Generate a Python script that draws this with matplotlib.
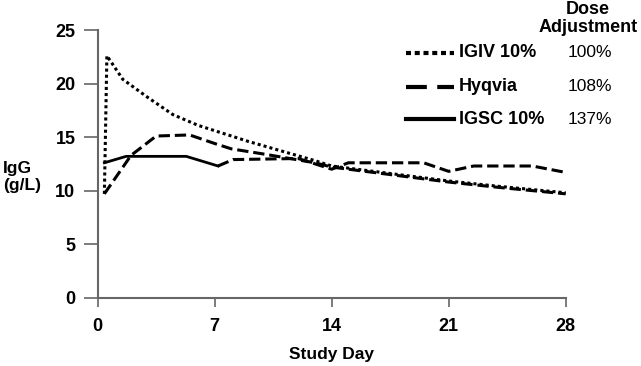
import matplotlib.pyplot as plt
from matplotlib.lines import Line2D

plt.rcParams["font.family"] = ["Liberation Sans", "DejaVu Sans"]

# mean IgG (g/L), per study day
igiv_day = [0.4, 0.55, 1.5, 3.0, 4.5, 6.0, 7.0, 9.0, 11.0, 13.0, 14.0, 17.0, 21.0, 24.0, 28.0]
igiv_igg = [9.7, 22.6, 20.4, 18.7, 17.1, 16.1, 15.6, 14.6, 13.7, 12.8, 12.3, 11.7, 10.9, 10.4, 9.8]

hyq_day = [0.4, 2.0, 3.5, 5.5, 7.0, 8.0, 10.0, 11.5, 13.0, 14.0, 17.0, 21.0, 24.0, 28.0]
hyq_igg = [9.7, 13.3, 15.1, 15.2, 14.4, 13.9, 13.4, 13.0, 12.6, 12.2, 11.6, 10.8, 10.3, 9.7]

igsc_day = [0.4, 1.7, 3.0, 5.3, 7.2, 8.1, 12.0, 14.0, 15.0, 19.5, 21.0, 22.5, 26.0, 28.0]
igsc_igg = [12.6, 13.2, 13.2, 13.2, 12.3, 12.9, 13.0, 12.0, 12.6, 12.6, 11.8, 12.3, 12.3, 11.7]
igsc_solid_until = 5  # first points drawn solid, the rest dashed as in the source

products = ["IGIV 10%", "Hyqvia", "IGSC 10%"]
dose_adj = ["100%", "108%", "137%"]

x_ticks = [0, 7, 14, 21, 28]
y_ticks = [0, 5, 10, 15, 20, 25]

FS = 13

fig = plt.figure(figsize=(6.41, 3.66), dpi=100)
ax = fig.add_axes([0.1524, 0.1866, 0.7301, 0.7314])

ax.plot(igiv_day, igiv_igg, color="black", lw=2.2, linestyle=(0, (1, 1)))
ax.plot(hyq_day, hyq_igg, color="black", lw=2.2, linestyle="--")
ax.plot(igsc_day[:igsc_solid_until], igsc_igg[:igsc_solid_until], color="black", lw=2.0)
ax.plot(igsc_day[igsc_solid_until - 1:], igsc_igg[igsc_solid_until - 1:],
        color="black", lw=2.2, linestyle="--")

ax.set_xlim(0, 28)
ax.set_ylim(0, 25)
ax.set_xticks(x_ticks)
ax.set_yticks(y_ticks)
for s in ["top", "right"]:
    ax.spines[s].set_visible(False)
for s in ["left", "bottom"]:
    ax.spines[s].set_color("#666666")
    ax.spines[s].set_linewidth(1.5)
ax.tick_params(axis="y", length=10, width=1.2, color="#666666", pad=6,
               labelsize=FS)
ax.tick_params(axis="x", length=6.5, width=1.2, color="#666666", pad=8,
               labelsize=FS)
for lab in ax.get_xticklabels() + ax.get_yticklabels():
    lab.set_fontweight("bold")

ax.set_xlabel("Study Day", fontsize=12.5, fontweight="bold", labelpad=9)
fig.text(3 / 641, 1 - 177 / 366, "IgG\n(g/L)", fontsize=12.5, fontweight="bold",
         ha="left", va="center", linespacing=1.15)

# legend with dose column
fig.text(588 / 641, 1 - 10 / 366, "Dose", fontsize=FS, fontweight="bold",
         ha="center", va="center")
fig.text(588 / 641, 1 - 28 / 366, "Adjustment", fontsize=FS, fontweight="bold",
         ha="center", va="center")
styles = [(0, (1.2, 0.9)), (0, (5, 2.5)), "-"]
rows_y = [52.7, 86.7, 119.3]
for name, pct, ls, ry in zip(products, dose_adj, styles, rows_y):
    yf = 1 - ry / 366
    fig.add_artist(Line2D([406 / 641, 454 / 641], [yf, yf], color="black",
                          lw=3.0, linestyle=ls, transform=fig.transFigure))
    fig.text(459 / 641, yf, name, fontsize=FS, fontweight="bold",
             ha="left", va="center")
    fig.text(568 / 641, yf, pct, fontsize=12.5, ha="left", va="center")

fig.savefig("out.png", dpi=100)
